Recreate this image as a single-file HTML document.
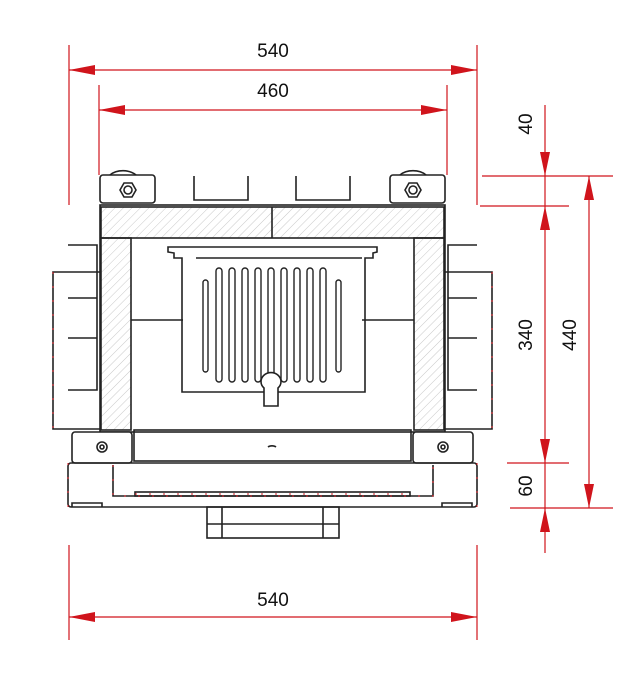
<!DOCTYPE html>
<html><head><style>body{margin:0;background:#fff}svg{display:block}</style></head><body>
<svg width="644" height="677" viewBox="0 0 644 677" xmlns="http://www.w3.org/2000/svg" font-family="Liberation Sans, sans-serif">
<defs>
<pattern id="h" width="6" height="6" patternUnits="userSpaceOnUse" patternTransform="rotate(45)"><line x1="0" y1="0" x2="0" y2="6" stroke="#bbb" stroke-width="0.8"/></pattern>
</defs>
<g stroke="#d0141c" stroke-width="1.2" fill="none">
<line x1="69" y1="45" x2="69" y2="205"/><line x1="477" y1="45" x2="477" y2="205"/>
<line x1="69" y1="70" x2="477" y2="70"/>
<line x1="99" y1="85" x2="99" y2="175"/><line x1="447" y1="85" x2="447" y2="175"/>
<line x1="99" y1="110" x2="447" y2="110"/>
<line x1="69" y1="545" x2="69" y2="640"/><line x1="477" y1="545" x2="477" y2="640"/>
<line x1="69" y1="617" x2="477" y2="617"/>
<line x1="482" y1="176" x2="613" y2="176"/><line x1="480" y1="206" x2="569" y2="206"/>
<line x1="507" y1="463" x2="569" y2="463"/><line x1="510" y1="508" x2="613" y2="508"/>
<line x1="545" y1="105" x2="545" y2="553"/><line x1="589" y1="176" x2="589" y2="508"/>
</g>
<g fill="#d0141c">
<path d="M69,70l26,-5v10z"/><path d="M477,70l-26,-5v10z"/>
<path d="M99,110l26,-5v10z"/><path d="M447,110l-26,-5v10z"/>
<path d="M69,617l26,-5v10z"/><path d="M477,617l-26,-5v10z"/>
<path d="M545,176l-5,-24h10z"/><path d="M545,206l-5,24h10z"/>
<path d="M545,463l-5,-24h10z"/><path d="M545,508l-5,24h10z"/>
<path d="M589,176l-5,24h10z"/><path d="M589,508l-5,-24h10z"/>
</g>
<g font-size="19" fill="#111" text-anchor="middle">
<text x="273" y="57">540</text><text x="273" y="97">460</text><text x="273" y="606">540</text>
<text transform="translate(532,124) rotate(-90)">40</text>
<text transform="translate(532,335) rotate(-90)">340</text>
<text transform="translate(532,486) rotate(-90)">60</text>
<text transform="translate(576,335) rotate(-90)">440</text>
</g>
<g stroke="#222" stroke-width="1.6" fill="none">
<rect x="100" y="175" width="55" height="28" rx="3"/><rect x="390" y="175" width="55" height="28" rx="3"/>
<path d="M110,175a17,12 0 0 1 26,0M400,175a17,12 0 0 1 26,0"/>
<polygon points="120,190 124,183 132,183 136,190 132,197 124,197"/><circle cx="128" cy="190" r="4"/>
<polygon points="405,190 409,183 417,183 421,190 417,197 409,197"/><circle cx="413" cy="190" r="4"/>
<path d="M194,176v24h54v-24M296,176v24h54v-24"/>
<rect x="100" y="205" width="345" height="227" fill="#fff"/>
<rect x="101" y="207" width="343" height="31" fill="url(#h)"/>
<line x1="272" y1="207" x2="272" y2="238"/>
<rect x="101" y="238" width="30" height="192" fill="url(#h)"/>
<rect x="414" y="238" width="30" height="192" fill="url(#h)"/>
<line x1="131" y1="320" x2="183" y2="320"/><line x1="362" y1="320" x2="414" y2="320"/>
<path d="M168,252v-5h209v5l-4,1v5h-8v134h-183v-134h-8v-5z"/>
<line x1="196" y1="258" x2="362" y2="258"/>
<g stroke-width="1.4">
<rect x="203" y="280" width="5" height="92" rx="2.5"/>
<rect x="216" y="268" width="6" height="114" rx="3"/><rect x="229" y="268" width="6" height="114" rx="3"/>
<rect x="242" y="268" width="6" height="114" rx="3"/><rect x="255" y="268" width="6" height="114" rx="3"/>
<rect x="268" y="268" width="6" height="114" rx="3"/><rect x="281" y="268" width="6" height="114" rx="3"/>
<rect x="294" y="268" width="6" height="114" rx="3"/><rect x="307" y="268" width="6" height="114" rx="3"/>
<rect x="320" y="268" width="6" height="114" rx="3"/>
<rect x="336" y="280" width="5" height="92" rx="2.5"/>
</g>
<path d="M264,388a10,9 0 1 1 14,0v18h-14z" fill="#fff"/>
<path d="M68,245h29v30M68,298h29M68,338h29v52h-29M97,275v115"/>
<path d="M477,245h-29v30M477,298h-29M477,338h-29v52h29M448,275v115"/>
<path d="M100,272h-47v157h47"/>
<path d="M445,272h47v157h-47"/>
<rect x="72" y="432" width="60" height="31" rx="3" fill="#fff"/><rect x="413" y="432" width="60" height="31" rx="3" fill="#fff"/>
<circle cx="102" cy="447" r="5"/><circle cx="102" cy="447" r="2"/>
<circle cx="443" cy="447" r="5"/><circle cx="443" cy="447" r="2"/>
<rect x="134" y="430" width="277" height="31"/>
<path d="M268,447a5,3 0 0 1 8,0"/>
<rect x="68" y="463" width="409" height="44" rx="3"/>
<path d="M113,465v31h320v-31"/>
<rect x="135" y="492" width="275" height="4"/>
<path d="M72,507v-4h30v4M442,507v-4h30v4"/>
<rect x="207" y="507" width="132" height="31"/>
<path d="M222,507v31M323,507v31M207,524h132"/>
</g>
<g stroke="#d0141c" stroke-width="1" stroke-dasharray="2,12" fill="none">
<path d="M53,272v157M492,272v157M68,463v44M477,463v44M113,465v31h320v-31M135,494h275"/>
</g>
</svg>
</body></html>
